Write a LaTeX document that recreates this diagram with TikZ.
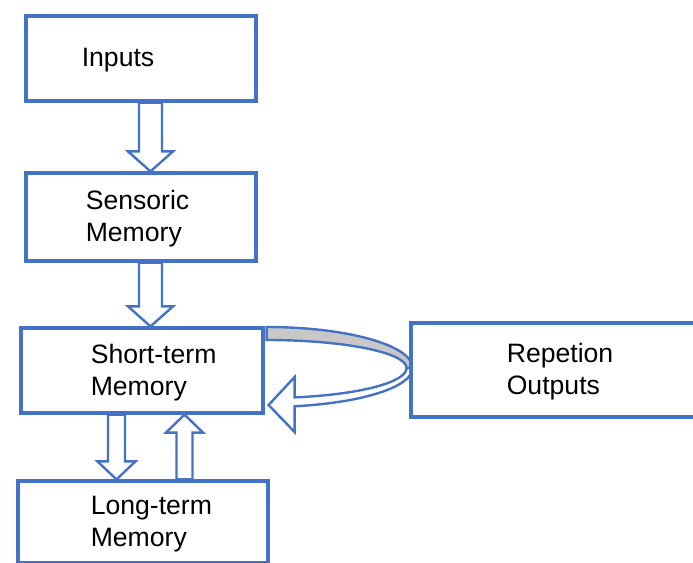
\documentclass[tikz,border=0pt]{standalone}
\usepackage{fontspec}
\setmainfont{Liberation Sans}
\usetikzlibrary{positioning,calc,shadows,backgrounds}

\definecolor{boxblue}{RGB}{68,114,196}
\definecolor{bandgray}{RGB}{200,200,200}

\tikzset{
  membox/.style={draw=boxblue, line width=1.6pt, fill=white, inner sep=0pt,
    drop shadow={shadow xshift=-1pt, shadow yshift=-1.2pt, fill=black, opacity=0.2}},
  memtext/.style={inner sep=0pt, align=left, yshift=-1pt, font=\fontsize{13.3}{16}\selectfont},
  flowarrow/.style={draw=boxblue, line width=1.2pt, fill=white, line join=miter},
}

% hollow block arrow: shaft half width, head half width, head length, from, to
\newcommand{\blockarrow}[5]{%
  \coordinate (hb) at ($(#5)!#3!(#4)$);
  \draw[flowarrow]
    ($(#4)!#1!90:(#5)$) -- ($(hb)!#1!90:(#5)$) -- ($(hb)!#2!90:(#5)$) -- (#5)
    -- ($(hb)!#2!-90:(#5)$) -- ($(hb)!#1!-90:(#5)$) -- ($(#4)!#1!-90:(#5)$) -- cycle;
}

\begin{document}
\begin{tikzpicture}[x=0.5pt, y=-0.5pt]
    \useasboundingbox (0,0) rectangle (693,563);
    \clip (0,0) rectangle (693,563);

    % Memory stages
    \node[membox, minimum width=115pt, minimum height=42.5pt] (inputs) at (141,58.5) {};
    \node[membox, minimum width=115pt, minimum height=44pt] (sensoric) at (141,217) {};
    \node[membox, minimum width=121pt, minimum height=42.5pt] (short) at (142,370.5) {};
    \node[membox, minimum width=125pt, minimum height=41pt] (long) at (143,522) {};
    \node[membox, minimum width=143.5pt, minimum height=47pt] (repeat) at (554.5,370) {};

    \node[memtext, right=28.5pt of inputs.west] (inputs-text) {Inputs};
    \node[memtext, right=30.5pt of sensoric.west] (sensoric-text) {Sensoric\\Memory};
    \node[memtext, right=35.5pt of short.west] (short-text) {Short-term\\Memory};
    \node[memtext, right=37pt of long.west] (long-text) {Long-term\\Memory};
    \node[memtext, right=48.5pt of repeat.west] (repeat-text) {Repetion\\Outputs};

    % Arrow ends
    \coordinate (a1) at ($(inputs.south)+(9.5,0)$);
    \coordinate (b1) at (a1 |- sensoric.north);
    \coordinate (a2) at ($(sensoric.south)+(9.5,0)$);
    \coordinate (b2) at (a2 |- short.north);
    \coordinate (a3) at ($(short.south)+(-25.5,0)$);
    \coordinate (b3) at (a3 |- long.north);
    \coordinate (a4) at ($(long.north)+(41.5,0)$);
    \coordinate (b4) at (a4 |- short.south);
    \coordinate (loop) at ($(short.east)+(2,-2.5)$);

    \begin{scope}[on background layer]
        \blockarrow{5.75pt}{11.25pt}{10pt}{a1}{b1}
        \blockarrow{5.75pt}{11.25pt}{10pt}{a2}{b2}
        \blockarrow{4.25pt}{9.5pt}{9pt}{a3}{b3}
        \blockarrow{4pt}{9.25pt}{9pt}{a4}{b4}

        % Repetition loop back into short-term memory
        \begin{scope}[shift={(loop)}]
            \draw[draw=boxblue, line width=1.2pt, fill=bandgray]
                (0,-41) arc[start angle=-90, end angle=0, x radius=146, y radius=41]
                -- (140,0) arc[start angle=0, end angle=-90, x radius=140, y radius=28]
                -- cycle;
            \draw[flowarrow]
                (146,0) arc[start angle=0, end angle=78.94, x radius=146, y radius=39]
                -- (28,64) -- (2,37) -- (28,9) -- (28,29.4)
                arc[start angle=78.46, end angle=0, x radius=140, y radius=30]
                -- cycle;
        \end{scope}
    \end{scope}
\end{tikzpicture}
\end{document}
